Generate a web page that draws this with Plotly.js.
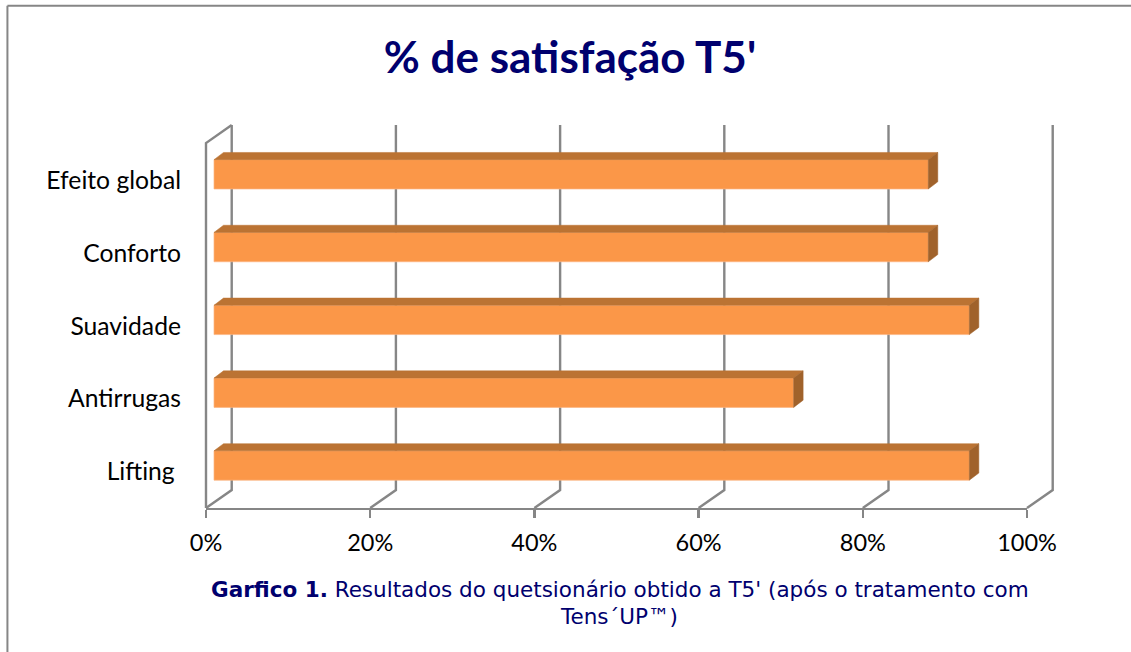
<!DOCTYPE html>
<html>
<head>
<meta charset="utf-8">
<script src="https://cdn.plot.ly/plotly-3.0.1.min.js"></script>
<style>html,body{margin:0;padding:0;background:#fff;overflow:hidden} text{font-variant-ligatures:none}</style>
</head>
<body>
<div id="chart" style="width:1131px;height:652px"></div>
<script>
const categories = ['Lifting\u00A0', 'Antirrugas', 'Suavidade', 'Conforto', 'Efeito global'];
const values = [92.0, 70.6, 92.0, 87.0, 87.0];
const tickValues = [0, 20, 40, 60, 80, 100];
const tickLabels = ['0%', '20%', '40%', '60%', '80%', '100%'];
const titleText = "% de satisfação T5'";
const captionLine1 = "<b>Garfico 1.</b> Resultados do quetsionário obtido a T5' (após o tratamento com";
const captionLine2 = "Tens´UP™)";

const W = 1131, H = 652;
const m = {l: 206, r: 104.3, t: 143.5, b: 143.7};
const plotW = W - m.l - m.r, plotH = H - m.t - m.b;
const pxX = plotW / 100, pxY = plotH / 5;
const px = p => (p - m.l) / plotW;
const py = p => 1 - (p - m.t) / plotH;

const GRID = '#868686';
const FRONT = '#FB9748', TOP = '#BB7333', SIDE = '#A0622B', NAVY = '#00006E';

// oblique projection, in axis units
const wallDx = 25.7 / pxX, wallDy = 18 / pxY;
const barDepthX = 9.5 / pxX, barDepthY = 7.2 / pxY;
const barStart = 8 / pxX;
const barThick = 29.4 / pxY;
const barShift = 6.1 / pxY;
const yMin = -0.5, yMax = 4.5;
const topExtra = 1 / pxY;

// axis value -> paper fraction (paper shapes are not clipped to the plot area)
const xp = v => v / 100;
const yp = v => (v - yMin) / (yMax - yMin);

const ys = categories.map((_, i) => i);

const shapes = tickValues.map(v => ({
  type: 'path', layer: 'below', xref: 'paper', yref: 'paper',
  line: {color: GRID, width: 2.4},
  path: `M ${xp(v)} ${yp(yMin)} L ${xp(v + wallDx)} ${yp(yMin + wallDy)} L ${xp(v + wallDx)} ${yp(yMax + wallDy + topExtra)}`
}));
shapes.push({
  type: 'path', layer: 'below', xref: 'paper', yref: 'paper',
  line: {color: GRID, width: 2.4},
  path: `M ${xp(0)} ${yp(yMin)} L ${xp(0)} ${yp(yMax + topExtra)} L ${xp(wallDx)} ${yp(yMax + wallDy + topExtra)}`
});
// outer frame
shapes.push({type: 'line', xref: 'paper', yref: 'paper', line: {color: GRID, width: 2},
  x0: px(7.5), x1: px(W + 2), y0: py(5), y1: py(5)});
shapes.push({type: 'line', xref: 'paper', yref: 'paper', line: {color: GRID, width: 2},
  x0: px(7.5), x1: px(7.5), y0: py(5), y1: py(H + 2)});

const traces = [{
  type: 'bar', orientation: 'h',
  x: values, y: ys, base: barStart,
  width: barThick, offset: barShift - barThick / 2,
  marker: {color: FRONT, line: {color: '#FCB583', width: 0.7}},
  hoverinfo: 'skip', showlegend: false
}];

values.forEach((v, i) => {
  const x0 = barStart, x1 = barStart + v;
  const y0 = i + barShift - barThick / 2, y1 = i + barShift + barThick / 2;
  traces.push({
    type: 'scatter', mode: 'lines', fill: 'toself', fillcolor: TOP,
    line: {color: TOP, width: 0.5},
    x: [x0, x0 + barDepthX, x1 + barDepthX, x1, x0],
    y: [y1, y1 + barDepthY, y1 + barDepthY, y1, y1],
    hoverinfo: 'skip', showlegend: false
  });
  traces.push({
    type: 'scatter', mode: 'lines', fill: 'toself', fillcolor: SIDE,
    line: {color: SIDE, width: 0.5},
    x: [x1, x1 + barDepthX, x1 + barDepthX, x1, x1],
    y: [y1, y1 + barDepthY, y0 + barDepthY, y0, y1],
    hoverinfo: 'skip', showlegend: false
  });
});

const layout = {
  width: W, height: H, margin: m,
  paper_bgcolor: '#fff', plot_bgcolor: 'rgba(0,0,0,0)',
  showlegend: false, bargap: 0,
  title: {
    text: '<b>' + titleText + '</b>',
    font: {family: 'Lato, "Open Sans", sans-serif', size: 44, color: NAVY},
    x: 570 / W, xanchor: 'center', xref: 'container',
    y: 1 - 58 / H, yanchor: 'middle', yref: 'container'
  },
  xaxis: {
    range: [0, 100], tickmode: 'array', tickvals: tickValues, ticktext: tickLabels,
    showgrid: false, zeroline: false, showline: true, linecolor: GRID, linewidth: 2.4,
    ticks: 'outside', ticklen: 8, tickwidth: 2.4, tickcolor: GRID,
    tickfont: {family: 'Lato, "Open Sans", sans-serif', size: 23.5, color: '#000'},
    ticklabelstandoff: 4, fixedrange: true
  },
  yaxis: {
    range: [yMin, yMax], tickmode: 'array', tickvals: ys, ticktext: categories,
    showgrid: false, zeroline: false, showline: false,
    ticks: '', tickfont: {family: 'Lato, "Open Sans", sans-serif', size: 24.7, color: '#000'},
    ticklabelstandoff: 24, fixedrange: true
  },
  shapes: shapes,
  annotations: [
    {text: captionLine1, xref: 'paper', yref: 'paper', x: px(619.5), y: py(590),
     xanchor: 'center', yanchor: 'middle', showarrow: false,
     font: {family: '"DejaVu Sans", Verdana, sans-serif', size: 21.5, color: NAVY}},
    {text: captionLine2, xref: 'paper', yref: 'paper', x: px(619), y: py(617),
     xanchor: 'center', yanchor: 'middle', showarrow: false,
     font: {family: '"DejaVu Sans", Verdana, sans-serif', size: 21.5, color: NAVY}}
  ]
};

Plotly.newPlot('chart', traces, layout, {displayModeBar: false, staticPlot: true});
</script>
</body>
</html>
